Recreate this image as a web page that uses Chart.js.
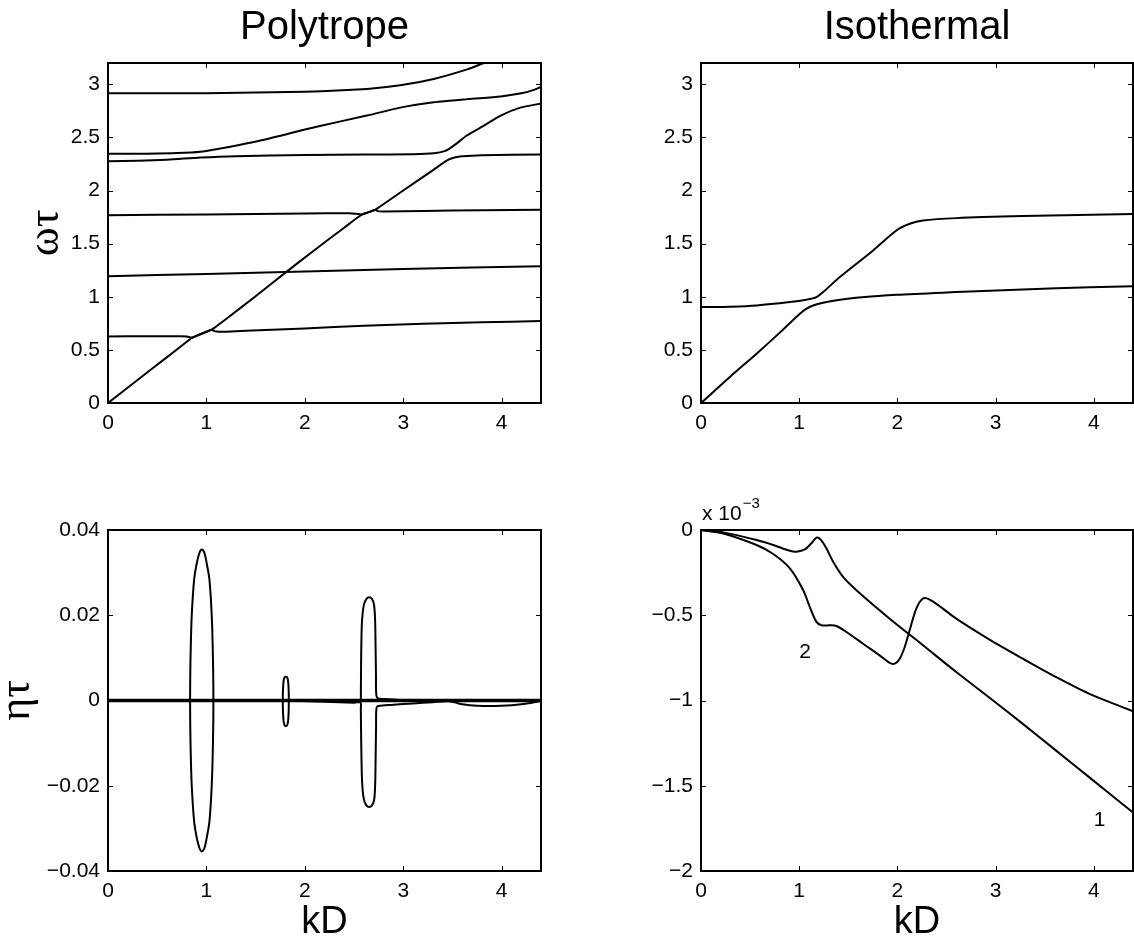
<!DOCTYPE html>
<html>
<head>
<meta charset="utf-8">
<title>Polytrope / Isothermal</title>
<script src="https://cdn.jsdelivr.net/npm/chart.js@4.4.1/dist/chart.umd.min.js"></script>
<style>
  html, body { margin: 0; padding: 0; background: #fff; }
  #fig { position: relative; width: 1134px; height: 944px; }
  #fig canvas { position: absolute; }
</style>
</head>
<body>
<div id="fig">
  <canvas id="poly-w" width="567" height="472" style="left:0;top:0"></canvas>
  <canvas id="iso-w" width="567" height="472" style="left:567px;top:0"></canvas>
  <canvas id="poly-eta" width="567" height="472" style="left:0;top:472px"></canvas>
  <canvas id="iso-eta" width="567" height="472" style="left:567px;top:472px"></canvas>
</div>
<script>
/* ── Ticks & labels ── */
const KD_TICKS = [0, 1, 2, 3, 4];
const W_TICKS = [0, 0.5, 1, 1.5, 2, 2.5, 3];
const W_LABELS = ['0', '0.5', '1', '1.5', '2', '2.5', '3'];
const POLY_ETA_TICKS = [-0.04, -0.02, 0, 0.02, 0.04];
const POLY_ETA_LABELS = ['\u22120.04', '\u22120.02', '0', '0.02', '0.04'];
const ISO_ETA_TICKS = [-2, -1.5, -1, -0.5, 0];           // x 10^-3
const ISO_ETA_LABELS = ['\u22122', '\u22121.5', '\u22121', '\u22120.5', '0'];

/* ── Polytrope : ωτ branches [kD, ωτ] ── */
const polyW1 = [[0,0],[0.3,0.216],[0.6,0.432],[0.8,0.576],[0.84,0.605],[0.851,0.614],[0.95,0.652],[1.054,0.69],[1.075,0.68],[1.1,0.672],[1.2,0.671],[1.6,0.688],[2.0,0.702],[2.6,0.728],[3.2,0.745],[3.8,0.76],[4.4,0.771]];
const polyW2 = [[0,0.627],[0.4,0.628],[0.75,0.628],[0.8,0.626],[0.83,0.62],[0.851,0.614],[0.95,0.652],[1.054,0.69],[1.1,0.72],[1.2,0.79],[1.5,1.005],[1.8,1.225],[2.1,1.44],[2.4,1.65],[2.58,1.774],[2.65,1.797],[2.715,1.818],[2.74,1.806],[2.8,1.803],[3.2,1.808],[3.8,1.814],[4.4,1.818]];
const polyW3 = [[0,1.768],[1.0,1.775],[2.0,1.783],[2.45,1.787],[2.52,1.782],[2.56,1.776],[2.58,1.774],[2.65,1.797],[2.715,1.818],[2.75,1.84],[3.0,2.0],[3.3,2.19],[3.4,2.255],[3.46,2.29],[3.52,2.31],[3.6,2.322],[3.8,2.332],[4.4,2.339]];
const polyW4 = [[0,2.276],[0.3,2.28],[0.6,2.29],[0.94,2.31],[1.3,2.323],[2.0,2.334],[2.6,2.338],[3.1,2.342],[3.31,2.35],[3.42,2.37],[3.51,2.42],[3.65,2.52],[3.82,2.61],[3.99,2.705],[4.19,2.78],[4.4,2.818]];
const polyW5 = [[0,2.345],[0.4,2.347],[0.7,2.352],[0.94,2.365],[1.2,2.405],[1.55,2.47],[2.12,2.6],[2.63,2.705],[2.97,2.78],[3.31,2.83],[3.65,2.86],[3.99,2.885],[4.2,2.915],[4.32,2.945],[4.4,2.975]];
const polyW6 = [[0,2.915],[1.0,2.916],[2.0,2.93],[2.63,2.956],[2.97,2.99],[3.31,3.05],[3.65,3.14],[3.82,3.2],[4.0,3.26]];
const polyW7 = [[0,1.194],[1.0,1.215],[2.0,1.238],[3.0,1.262],[4.4,1.288]];

/* ── Isothermal : ωτ branches ── */
const isoW1 = [[0,0],[0.3,0.25],[0.566,0.464],[0.8,0.66],[1.007,0.84],[1.08,0.89],[1.142,0.918],[1.244,0.944],[1.4,0.97],[1.58,0.99],[1.99,1.019],[2.6,1.044],[3.28,1.069],[3.96,1.09],[4.4,1.1]];
const isoW2 = [[0,0.903],[0.3,0.907],[0.566,0.918],[0.905,0.95],[1.07,0.972],[1.176,0.997],[1.244,1.044],[1.414,1.185],[1.753,1.436],[1.99,1.624],[2.125,1.687],[2.26,1.718],[2.6,1.74],[3.28,1.759],[4.4,1.78]];

/* ── Polytrope : ητ ── */
const polyEtaZero = [[0,0],[4.4,0]];
const polyEtaLoop1 = [[0.834,0],[0.836,0.0063],[0.841,0.0126],[0.851,0.02],[0.875,0.0283],[0.902,0.0322],[0.929,0.0346],[0.953,0.0354],[0.98,0.0346],[1.003,0.0322],[1.031,0.0283],[1.054,0.02],[1.064,0.0126],[1.069,0.0063],[1.071,0],
  [1.069,-0.0063],[1.064,-0.0126],[1.054,-0.02],[1.031,-0.0283],[1.003,-0.0322],[0.98,-0.0346],[0.953,-0.0354],[0.929,-0.0346],[0.902,-0.0322],[0.875,-0.0283],[0.851,-0.02],[0.841,-0.0126],[0.836,-0.0063],[0.834,0]];
const polyEtaLoop2 = [[1.776,0],[1.778,0.0025],[1.785,0.0047],[1.796,0.0055],[1.807,0.0056],[1.818,0.0055],[1.829,0.0047],[1.836,0.0025],[1.837,0],
  [1.836,-0.0026],[1.829,-0.005],[1.818,-0.0059],[1.807,-0.006],[1.796,-0.0059],[1.785,-0.005],[1.778,-0.0026],[1.776,0]];
const polyEtaLoop3Up = [[2.569,0],[2.571,0.006],[2.574,0.0126],[2.582,0.019],[2.6,0.0225],[2.625,0.0238],[2.654,0.0242],[2.683,0.0238],[2.703,0.0225],[2.714,0.019],[2.719,0.0126],[2.723,0.006],[2.727,0.0012],[2.745,0.0005],[2.85,0.0003],[3.0,0.0001],[3.2,0]];
const polyEtaLoop3Down = [[1.85,0],[2.2,-0.0003],[2.5,-0.0005],[2.566,-0.0005],[2.569,-0.002],[2.571,-0.006],[2.575,-0.0126],[2.583,-0.0195],[2.6,-0.0232],[2.625,-0.0246],[2.654,-0.025],[2.683,-0.0246],[2.705,-0.0232],[2.715,-0.0195],[2.72,-0.0126],[2.724,-0.006],[2.728,-0.0018],[2.745,-0.0013],[2.9,-0.001],[3.1,-0.0007],[3.3,-0.0004],[3.45,-0.0002],[3.52,-0.0004],[3.6,-0.0009],[3.75,-0.00125],[4.0,-0.00125],[4.2,-0.0009],[4.4,-0.0001]];

/* ── Isothermal : ητ (x 10^-3) ── */
const isoEta1 = [[0,0],[0.227,-0.014],[0.566,-0.059],[0.736,-0.088],[0.905,-0.122],[0.973,-0.127],[1.058,-0.114],[1.125,-0.078],[1.176,-0.045],[1.217,-0.055],[1.278,-0.108],[1.346,-0.186],[1.447,-0.275],[1.583,-0.353],[1.922,-0.52],[2.261,-0.676],[2.6,-0.833],[2.939,-0.984],[3.278,-1.137],[3.617,-1.294],[3.956,-1.451],[4.4,-1.657]];
const isoEta2 = [[0,0],[0.227,-0.02],[0.566,-0.088],[0.736,-0.141],[0.905,-0.225],[1.041,-0.353],[1.108,-0.451],[1.176,-0.539],[1.227,-0.559],[1.312,-0.559],[1.38,-0.563],[1.481,-0.598],[1.651,-0.667],[1.82,-0.735],[1.922,-0.78],[1.973,-0.784],[2.024,-0.755],[2.075,-0.686],[2.125,-0.588],[2.193,-0.461],[2.261,-0.402],[2.329,-0.408],[2.464,-0.461],[2.6,-0.52],[2.939,-0.643],[3.278,-0.755],[3.617,-0.863],[3.956,-0.961],[4.4,-1.063]];
const isoEtaNotes = [{ text: '2', x: 1.06, y: -0.714 }, { text: '1', x: 4.06, y: -1.70 }];

const SANS = '"Liberation Sans", Arial, Helvetica, sans-serif';
const SERIF = '"Liberation Serif", "Times New Roman", serif';
const TICK = 5;

Chart.defaults.font.family = SANS;
Chart.defaults.color = '#000';

/* ── Cadre MATLAB : boîte + graduations intérieures ── */
const framePlugin = {
  id: 'frame',
  afterDatasetsDraw(chart) {
    const { ctx, chartArea: a, scales: { x, y } } = chart;
    ctx.save();
    ctx.strokeStyle = '#000';
    ctx.lineWidth = 1;
    ctx.beginPath();
    x.ticks.forEach(t => {
      const px = Math.round(x.getPixelForValue(t.value)) + 0.5;
      ctx.moveTo(px, a.bottom); ctx.lineTo(px, a.bottom - TICK);
      ctx.moveTo(px, a.top); ctx.lineTo(px, a.top + TICK);
    });
    y.ticks.forEach(t => {
      const py = Math.round(y.getPixelForValue(t.value)) + 0.5;
      ctx.moveTo(a.left, py); ctx.lineTo(a.left + TICK, py);
      ctx.moveTo(a.right, py); ctx.lineTo(a.right - TICK, py);
    });
    ctx.stroke();
    ctx.lineWidth = 2;
    ctx.strokeRect(a.left, a.top, a.right - a.left, a.bottom - a.top);
    ctx.restore();
  }
};

/* ── Textes libres : titre, exposant, repères de courbes ── */
const notesPlugin = {
  id: 'notes',
  afterDraw(chart, args, opts) {
    const { ctx, chartArea: a, scales: { x, y } } = chart;
    ctx.save();
    ctx.fillStyle = '#000';
    if (opts.title) {
      ctx.font = '40px ' + SANS;
      ctx.textAlign = 'center';
      ctx.textBaseline = 'alphabetic';
      ctx.fillText(opts.title, (a.left + a.right) / 2, 39);
    }
    if (opts.exponent) {
      ctx.font = '21px ' + SANS;
      ctx.textAlign = 'left';
      ctx.textBaseline = 'alphabetic';
      const base = 'x 10';
      ctx.fillText(base, a.left + 1, a.top - 10);
      const w = ctx.measureText(base).width;
      ctx.font = '15px ' + SANS;
      ctx.fillText(opts.exponent, a.left + 2 + w, a.top - 22);
    }
    (opts.labels || []).forEach(l => {
      ctx.font = '21px ' + SANS;
      ctx.textAlign = 'center';
      ctx.textBaseline = 'middle';
      ctx.fillText(l.text, x.getPixelForValue(l.x), y.getPixelForValue(l.y));
    });
    ctx.restore();
  }
};

function lines(list, width, tension) {
  return list.map(d => ({
    data: d,
    showLine: true,
    borderColor: '#000',
    borderWidth: width,
    pointRadius: 0,
    tension: tension,
    fill: false
  }));
}

/* ── Construction d'un panneau ── */
function panel(id, o) {
  return new Chart(document.getElementById(id), {
    type: 'scatter',
    data: { datasets: o.datasets },
    plugins: [framePlugin, notesPlugin],
    options: {
      responsive: false,
      devicePixelRatio: 1,
      animation: false,
      events: [],
      layout: { padding: { top: o.top, right: o.right, left: 0, bottom: 0 } },
      plugins: {
        legend: { display: false },
        tooltip: { enabled: false },
        notes: o.notes
      },
      scales: {
        x: {
          type: 'linear', min: 0, max: 4.4,
          afterBuildTicks: s => { s.ticks = KD_TICKS.map(v => ({ value: v })); },
          afterFit: s => { s.height = o.xHeight; s.paddingLeft = 0; s.paddingRight = 0; },
          ticks: { font: { size: 21 }, padding: 8, maxRotation: 0, autoSkip: false, callback: v => String(v) },
          grid: { display: false, drawTicks: false },
          border: { display: false },
          title: o.xTitle ? {
            display: true, text: 'kD',
            font: { size: 38, lineHeight: 1 },
            padding: { top: 0, bottom: 2 }
          } : { display: false }
        },
        y: {
          type: 'linear', min: o.yMin, max: o.yMax,
          afterBuildTicks: s => { s.ticks = o.yTicks.map(v => ({ value: v })); },
          afterFit: s => { s.width = o.yWidth; s.paddingTop = 0; s.paddingBottom = 0; },
          ticks: { font: { size: 21 }, padding: 8, autoSkip: false, callback: (v, i) => o.yLabels[i] },
          grid: { display: false, drawTicks: false },
          border: { display: false },
          title: o.yTitle ? {
            display: true, text: o.yTitle,
            font: { family: SERIF, size: 44, lineHeight: 0.5 },
            padding: { top: o.yTitlePad, bottom: 0 }
          } : { display: false }
        }
      }
    }
  });
}

panel('poly-w', {
  datasets: lines([polyW1, polyW2, polyW3, polyW4, polyW5, polyW6, polyW7], 2, 0.25),
  top: 63, right: 26, xHeight: 69, yWidth: 108,
  yMin: 0, yMax: 3.2, yTicks: W_TICKS, yLabels: W_LABELS,
  yTitle: '\u03c9\u03c4', yTitlePad: 35,
  notes: { title: 'Polytrope' }
});

panel('iso-w', {
  datasets: lines([isoW1, isoW2], 2, 0.3),
  top: 63, right: 1, xHeight: 69, yWidth: 134,
  yMin: 0, yMax: 3.2, yTicks: W_TICKS, yLabels: W_LABELS,
  notes: { title: 'Isothermal' }
});

panel('poly-eta', {
  datasets: lines([polyEtaZero], 3.5, 0)
    .concat(lines([polyEtaLoop1, polyEtaLoop2, polyEtaLoop3Up, polyEtaLoop3Down], 2, 0.35)),
  top: 58, right: 26, xHeight: 73, yWidth: 108, xTitle: true,
  yMin: -0.04, yMax: 0.04, yTicks: POLY_ETA_TICKS, yLabels: POLY_ETA_LABELS,
  yTitle: '\u03b7\u03c4', yTitlePad: 6,
  notes: {}
});

panel('iso-eta', {
  datasets: lines([isoEta1, isoEta2], 2, 0.3),
  top: 58, right: 1, xHeight: 73, yWidth: 134, xTitle: true,
  yMin: -2, yMax: 0, yTicks: ISO_ETA_TICKS, yLabels: ISO_ETA_LABELS,
  notes: { exponent: '\u22123', labels: isoEtaNotes }
});
</script>
</body>
</html>
